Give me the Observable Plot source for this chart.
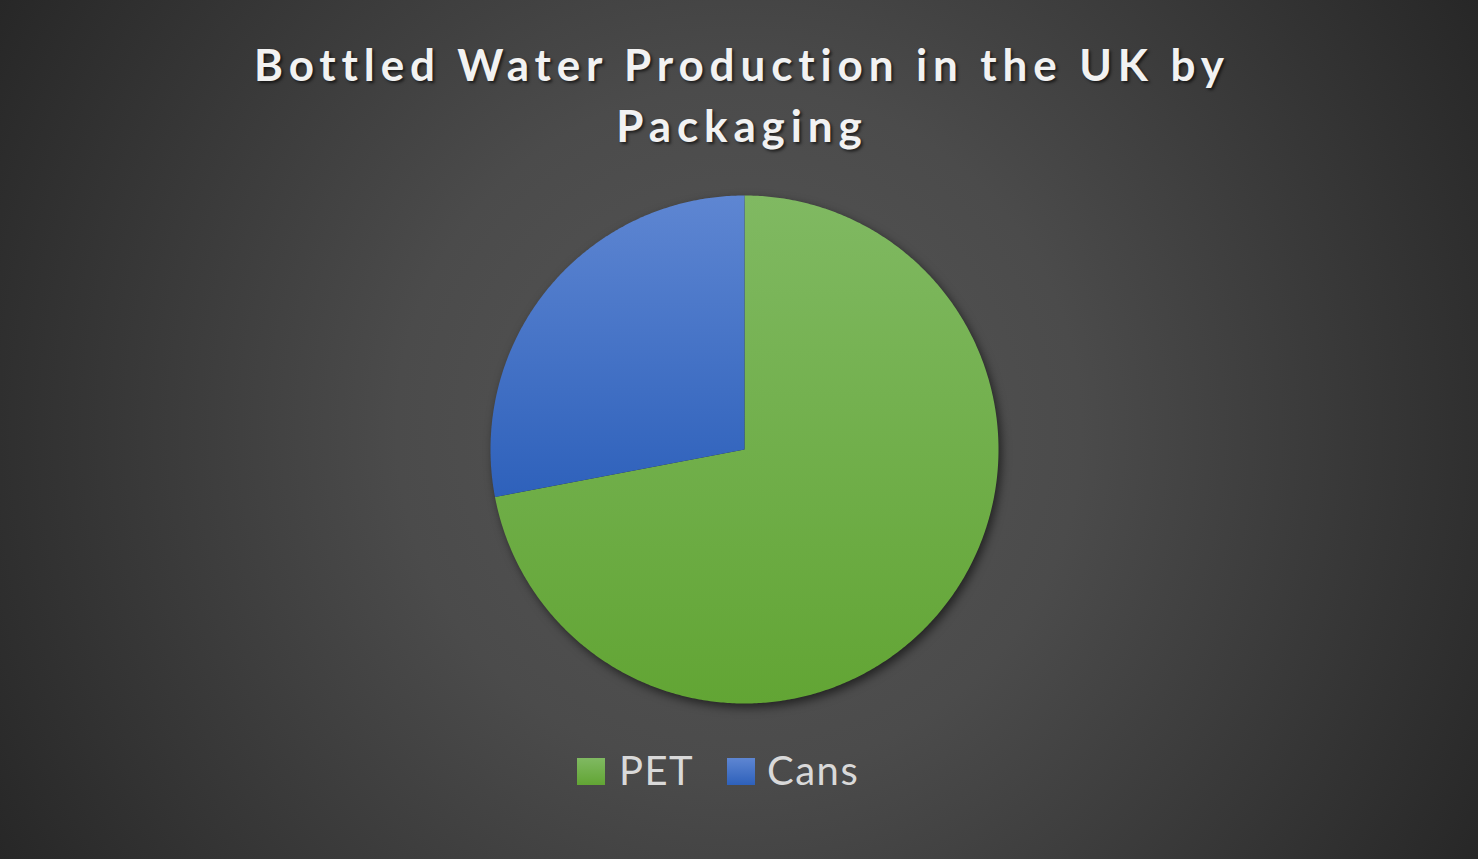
<!DOCTYPE html>
<html>
<head>
<meta charset="utf-8">
<script src="https://cdn.jsdelivr.net/npm/d3@7"></script>
<script src="https://cdn.jsdelivr.net/npm/@observablehq/plot@0.6"></script>
<style>
  html, body { margin: 0; padding: 0; }
  body {
    width: 1478px; height: 859px; overflow: hidden; position: relative;
    background: radial-gradient(circle farthest-corner at 50% 50%, #565656 0%, #4b4b4b 40%, #272727 100%);
    font-family: Lato, "Open Sans", sans-serif;
  }
  #title {
    position: absolute; left: 0; top: 34px; width: 1478px;
    text-align: center; color: #f2f2f2; font-weight: 700; font-size: 44px;
    line-height: 61px; text-shadow: 2px 2px 3px rgba(0,0,0,0.6);
  }
  #title div { white-space: nowrap; }
  #chart { position: absolute; left: 0; top: 170px; }
  #chart svg { filter: drop-shadow(3px 4px 5px rgba(0,0,0,0.55)); }
  .sw { position: absolute; width: 28px; height: 27px; }
  .lt { position: absolute; font-size: 40px; line-height: 40px; color: #d9d9d9; white-space: nowrap; letter-spacing: 1.5px; }
</style>
</head>
<body>
<div id="title"><div id="t1"></div><div id="t2"></div></div>
<div id="chart"></div>
<div id="legend"></div>
<script>
// ---- data ----
const titleLines = ["Bottled Water Production in the UK by", "Packaging"];
const categories = ["PET", "Cans"];
const shares = [72, 28];
const gradTop = ["#80b962", "#5e86d2"];
const gradBottom = ["#62a534", "#2e61bb"];

// ---- title (letter spacing fitted to reference width) ----
const t1 = document.getElementById("t1"), t2 = document.getElementById("t2");
t1.textContent = titleLines[0];
t2.textContent = titleLines[1];
const ctx = document.createElement("canvas").getContext("2d");
ctx.font = "700 44px Lato";
const w1 = ctx.measureText(titleLines[0]).width;
const ls = (970 - w1) / (titleLines[0].length - 1);
for (const t of [t1, t2]) { t.style.letterSpacing = ls + "px"; t.style.marginRight = (-ls) + "px"; }

// ---- pie geometry via d3.pie ----
const arcs = d3.pie().sort(null).value(d => d)(shares);
const pts = [];
arcs.forEach((a, i) => {
  const key = categories[i];
  pts.push({key, x: 0, y: 0});
  const n = Math.max(2, Math.ceil((a.endAngle - a.startAngle) / (Math.PI / 360)));
  for (let k = 0; k <= n; k++) {
    const ang = a.startAngle + (a.endAngle - a.startAngle) * k / n;
    pts.push({key, x: Math.sin(ang), y: Math.cos(ang)});
  }
  pts.push({key, x: 0, y: 0});
});

const plot = Plot.plot({
  width: 1478,
  height: 560,
  margin: 0,
  x: {domain: [-1, 1], range: [490, 998], axis: null},
  y: {domain: [-1, 1], range: [533, 25], axis: null},
  color: {type: "ordinal", domain: categories, range: categories.map((c, i) => `url(#grad${i})`)},
  style: {background: "transparent", overflow: "visible"},
  marks: [
    Plot.line(pts, {x: "x", y: "y", z: "key", fill: "key", stroke: null, curve: "linear"})
  ]
});

// gradients
const defs = d3.select(plot).insert("defs", ":first-child");
categories.forEach((c, i) => {
  const g = defs.append("linearGradient").attr("id", `grad${i}`).attr("x1", 0).attr("y1", 0).attr("x2", 0).attr("y2", 1);
  g.append("stop").attr("offset", "0%").attr("stop-color", gradTop[i]);
  g.append("stop").attr("offset", "100%").attr("stop-color", gradBottom[i]);
});
document.getElementById("chart").appendChild(plot);

// ---- legend ----
const legend = document.getElementById("legend");
const swX = [577, 727], txX = [619, 767];
categories.forEach((c, i) => {
  const s = document.createElement("div");
  s.className = "sw";
  s.style.left = swX[i] + "px"; s.style.top = "758px";
  s.style.background = `linear-gradient(${gradTop[i]}, ${gradBottom[i]})`;
  legend.appendChild(s);
  const t = document.createElement("div");
  t.className = "lt";
  t.style.left = txX[i] + "px"; t.style.top = "750px";
  t.textContent = c;
  legend.appendChild(t);
});
</script>
</body>
</html>
